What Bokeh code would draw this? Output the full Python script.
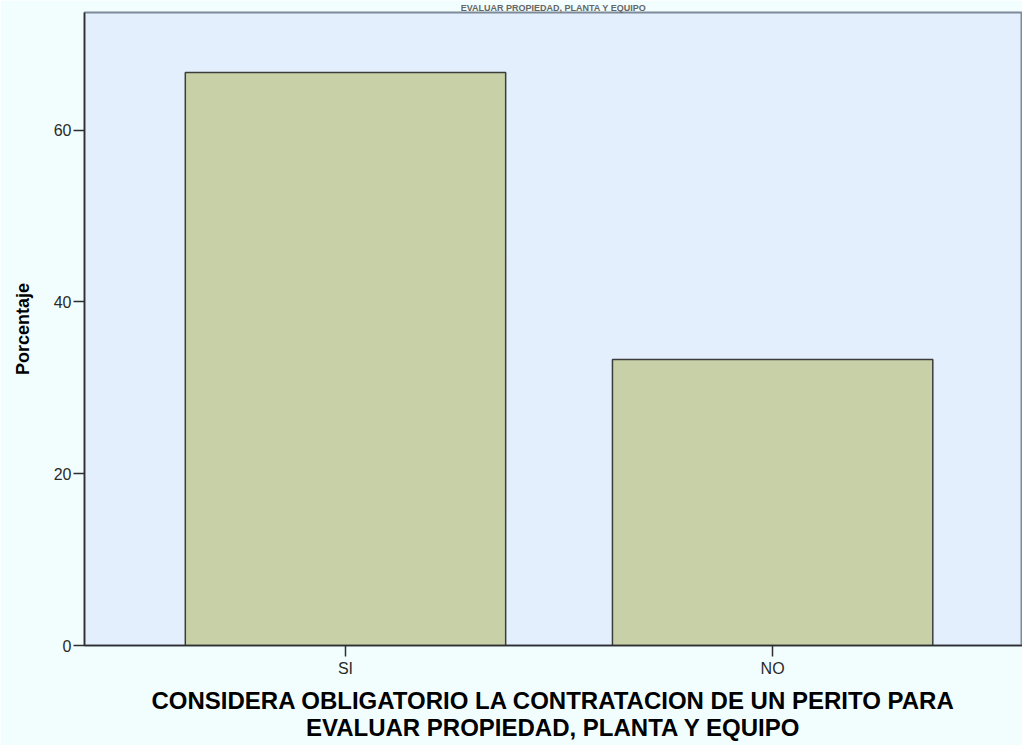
from bokeh.plotting import figure
from bokeh.models import Range1d, FixedTicker, ColumnDataSource
from bokeh.embed import file_html
from bokeh.resources import INLINE

categories = ["SI", "NO"]
percentages = [66.7, 33.3]
y_ticks = [0, 20, 40, 60]
x_label = "CONSIDERA OBLIGATORIO LA CONTRATACION DE UN PERITO PARA\nEVALUAR PROPIEDAD, PLANTA Y EQUIPO"
y_label = "Porcentaje"
title_tail = "EVALUAR PROPIEDAD, PLANTA Y EQUIPO"

positions = [i + 0.5 for i in range(len(categories))]
src = ColumnDataSource(dict(x=positions, top=percentages, cat=categories))

p = figure(width=1022, height=745, output_backend="svg", toolbar_location=None,
           x_range=Range1d(-0.111, 2.085), y_range=Range1d(0, 73.7))
p.min_border_left = 84
p.min_border_right = 0
p.min_border_top = 11
p.min_border_bottom = 100

p.title.text = title_tail
p.title.align = "center"
p.title.text_font = "Liberation Sans"
p.title.text_font_style = "bold"
p.title.text_font_size = "9px"
p.title.text_color = "#666666"
p.title.standoff = 0
p.title.offset = -40

p.background_fill_color = "#E3EFFD"
p.border_fill_color = "#F2FEFE"
p.outline_line_color = "#7F8A99"
p.outline_line_width = 2

p.vbar(x="x", top="top", width=0.75, bottom=0, source=src,
       fill_color="#C8D0A8", line_color="#3C3C3C", line_width=1.5)

p.xgrid.visible = False
p.ygrid.visible = False

p.xaxis.ticker = FixedTicker(ticks=positions)
p.xaxis.major_label_overrides = {pos: c for pos, c in zip(positions, categories)}
p.yaxis.ticker = FixedTicker(ticks=y_ticks)
for ax in (p.xaxis[0], p.yaxis[0]):
    ax.axis_line_color = "#2E2E2E"
    ax.axis_line_width = 1.5
    ax.major_tick_line_color = "#2E2E2E"
    ax.major_tick_line_width = 1.5
    ax.major_tick_out = 11
    ax.major_tick_in = 0
    ax.minor_tick_line_color = None
    ax.major_label_text_font = "Liberation Sans"
    ax.major_label_text_font_size = "16px"
    ax.major_label_text_color = "#2A2A2A"
    ax.axis_label_text_font = "Liberation Sans"
    ax.axis_label_text_font_style = "bold"
    ax.axis_label_text_color = "#000000"

p.xaxis.axis_label = x_label
p.xaxis.axis_label_text_font_size = "24px"
p.xaxis.axis_label_text_line_height = 1.0
p.xaxis.major_label_standoff = 3
p.xaxis.axis_label_standoff = 7
p.yaxis.axis_label = y_label
p.yaxis.axis_label_text_font_size = "18px"
p.yaxis.major_label_standoff = 2
p.yaxis.axis_label_standoff = 18

open("out.html", "w").write(file_html(p, INLINE))
